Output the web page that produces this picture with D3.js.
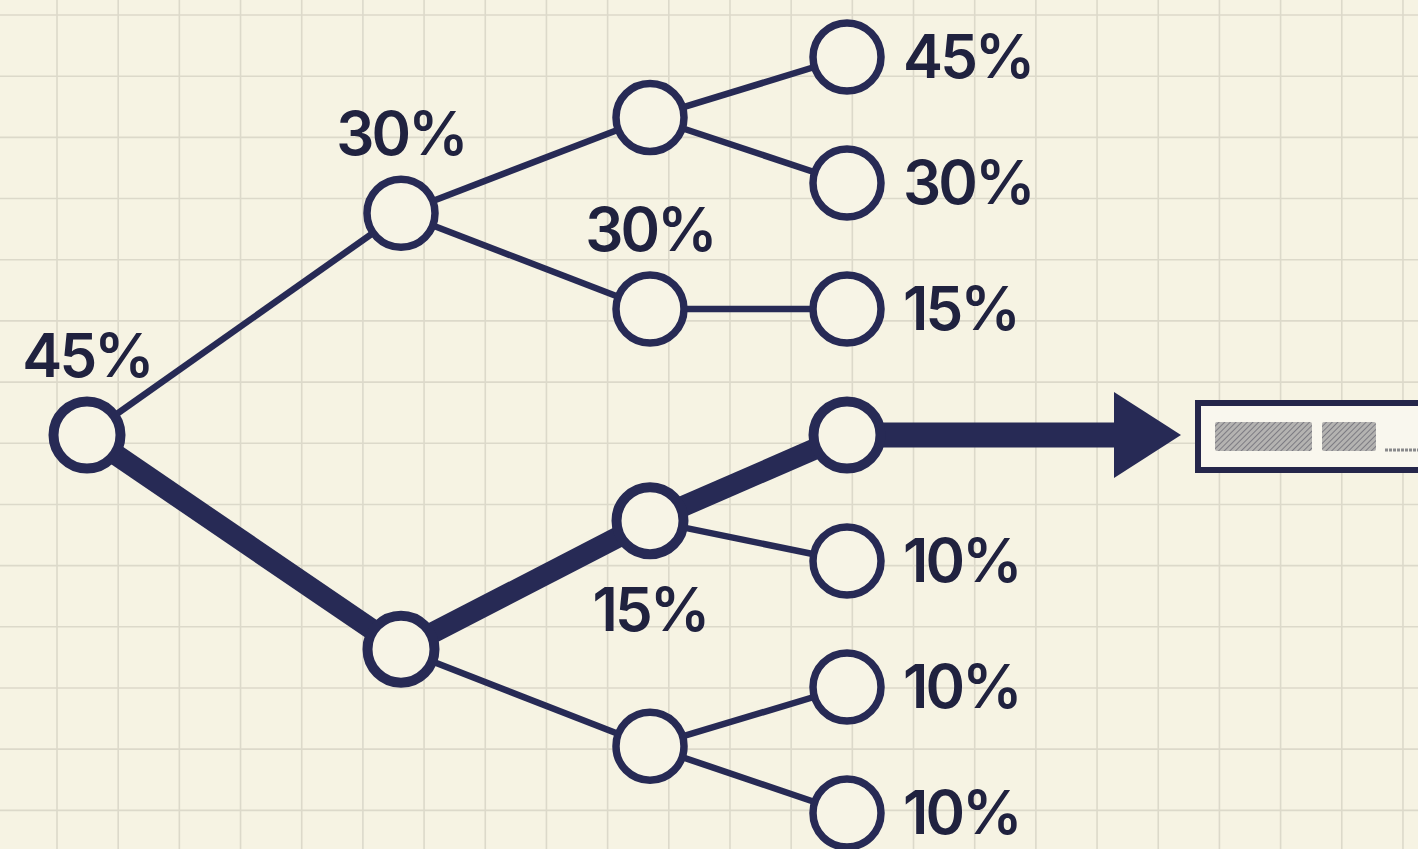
<!DOCTYPE html>
<html><head><meta charset="utf-8">
<script src="https://cdn.jsdelivr.net/npm/d3@7/dist/d3.min.js"></script>
<style>
html,body{margin:0;padding:0;background:#f6f3e3;overflow:hidden}
svg{display:block}
</style></head><body>
<svg id="chart" width="1418" height="849"></svg>
<script>
// ---- data ----
const nodeIds   = ["root","a","b","a1","a2","b1","b2","a1x","a1y","a2x","b1x","b1y","b2x","b2y"];
const parentIds = [null,"root","root","a","a","b","b","a1","a1","a2","b1","b1","b2","b2"];
const depths    = [0,1,1,2,2,2,2,3,3,3,3,3,3,3];
const rows      = [3.0,1.24,4.7,0.48,2.0,3.68,5.47,0,1,2,3,4,5,6];
const labels    = ["45%","30%","","","30%","15%","","45%","30%","15%","","10%","10%","10%"];
const labelSide = ["above","above","","","above","below","","right","right","right","","right","right","right"];
const highlightPath = ["root","b","b1","b1x"];

// ---- setup ----
const W = 1418, H = 849;
const svg = d3.select("#chart");
const ink = "#272a55";
const textInk = "#20223f";

// grid
const gridStep = 61.18;
const gx = d3.range(57 - gridStep, W + gridStep, gridStep);
const gy = d3.range(15, H + gridStep, gridStep);
const grid = svg.append("g");
grid.selectAll("line.v").data(gx).join("line")
  .attr("x1", d => d).attr("x2", d => d).attr("y1", 0).attr("y2", H)
  .attr("stroke", "#dcd9ca").attr("stroke-width", 1.6);
grid.selectAll("line.h").data(gy).join("line")
  .attr("y1", d => d).attr("y2", d => d).attr("x1", 0).attr("x2", W)
  .attr("stroke", "#dcd9ca").attr("stroke-width", 1.6);

// scales
const xScale = d3.scaleOrdinal().domain([0,1,2,3]).range([87, 401, 650, 847]);
const yScale = d3.scaleLinear().domain([0, 6]).range([57, 813]);

const nodes = nodeIds.map((id, i) => ({
  id, parent: parentIds[i], depth: depths[i], row: rows[i],
  label: labels[i], side: labelSide[i],
  hl: highlightPath.includes(id),
  x: xScale(depths[i]), y: yScale(rows[i])
}));
const byId = new Map(nodes.map(n => [n.id, n]));
const links = nodes.filter(n => n.parent).map(n => ({
  s: byId.get(n.parent), t: n, hl: n.hl && byId.get(n.parent).hl
}));

// links
svg.append("g").selectAll("line").data(links).join("line")
  .attr("x1", d => d.s.x).attr("y1", d => d.s.y)
  .attr("x2", d => d.t.x).attr("y2", d => d.t.y)
  .attr("stroke", ink)
  .attr("stroke-width", d => d.hl ? 21 : 6.5)
  .attr("stroke-linecap", "butt");

// arrow from highlighted leaf
const leaf = byId.get("b1x");
const arrowEnd = 1181, headLen = 67, headHalf = 43, shaft = 25;
const ag = svg.append("g");
ag.append("rect")
  .attr("x", leaf.x).attr("y", leaf.y - shaft/2)
  .attr("width", arrowEnd - headLen - leaf.x + 1).attr("height", shaft)
  .attr("fill", ink);
ag.append("path")
  .attr("d", `M${arrowEnd - headLen},${leaf.y - headHalf} L${arrowEnd},${leaf.y} L${arrowEnd - headLen},${leaf.y + headHalf} Z`)
  .attr("fill", ink);

// nodes
svg.append("g").selectAll("circle").data(nodes).join("circle")
  .attr("cx", d => d.x).attr("cy", d => d.y)
  .attr("r", d => d.hl ? 33.5 : 34)
  .attr("fill", "#f7f4e6")
  .attr("stroke", ink)
  .attr("stroke-width", d => d.hl ? 10 : 7.5);

// labels
const lab = svg.append("g")
  .style("font-family", "Inter, 'Liberation Sans', Arial, sans-serif")
  .style("font-weight", 600)
  .style("font-size", "60px")
  .style("letter-spacing", "-2.8px")
  .attr("fill", textInk);
lab.selectAll("text").data(nodes.filter(n => n.label)).join("text")
  .attr("x", d => d.side === "right" ? d.x + 56 : d.x)
  .attr("y", d => d.side === "above" ? d.y - 58 : d.side === "below" ? d.y + 110 : d.y + 21)
  .attr("text-anchor", d => d.side === "right" ? "start" : "middle")
  .text(d => d.label);

// result box (redacted)
const defs = svg.append("defs");
const pat = defs.append("pattern").attr("id", "hatch")
  .attr("patternUnits", "userSpaceOnUse").attr("width", 4).attr("height", 4)
  .attr("patternTransform", "rotate(45)");
pat.append("rect").attr("width", 4).attr("height", 4).attr("fill", "#b4b3b1");
pat.append("line").attr("x1", 0).attr("y1", 0).attr("x2", 0).attr("y2", 4)
  .attr("stroke", "#7c7b82").attr("stroke-width", 2);

const box = svg.append("g");
box.append("rect").attr("x", 1198).attr("y", 403).attr("width", 260).attr("height", 67)
  .attr("fill", "#f9f7ee").attr("stroke", "#25264a").attr("stroke-width", 6);
box.append("rect").attr("x", 1215).attr("y", 422).attr("width", 97).attr("height", 29)
  .attr("fill", "url(#hatch)").attr("rx", 2);
box.append("rect").attr("x", 1322).attr("y", 422).attr("width", 54).attr("height", 29)
  .attr("fill", "url(#hatch)").attr("rx", 2);
box.append("line").attr("x1", 1385).attr("x2", 1418).attr("y1", 450).attr("y2", 450)
  .attr("stroke", "#8a8a8c").attr("stroke-width", 3).attr("stroke-dasharray", "3,1");
</script>
</body></html>
